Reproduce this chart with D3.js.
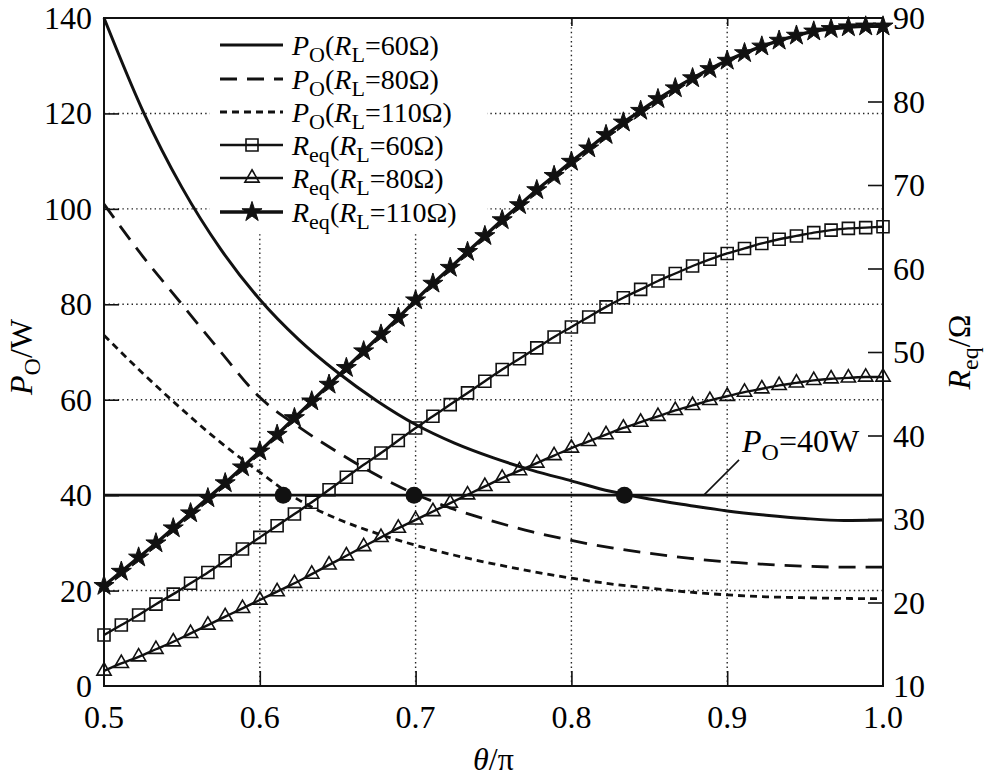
<!DOCTYPE html>
<html><head><meta charset="utf-8">
<script src="https://cdn.jsdelivr.net/npm/d3@7"></script>
<style>
html,body{margin:0;padding:0;background:#fff;}
</style></head>
<body><svg id="c" width="985" height="780" font-family="'Liberation Serif','Times New Roman',Times,'Nimbus Roman','Nimbus Roman No9 L',Tinos,FreeSerif,'Noto Serif','DejaVu Serif',serif"></svg>
<script>
// ---- data ----
const thetaP = [0.5,0.525,0.55,0.575,0.6,0.625,0.65,0.675,0.7,0.725,0.75,0.775,0.8,0.825,0.85,0.875,0.9,0.925,0.95,0.975,1.0];
const p60  = [140,120.5,104.5,91.5,81,72.6,65.7,59.8,54.8,50.9,47.8,45.2,43.0,40.8,39.2,37.9,36.7,35.8,35.1,34.7,34.8];
const p80  = [101,90,80,70,60.5,54.3,49,44.2,40.2,37.0,34.5,32.3,30.5,29.0,27.8,26.8,26.0,25.5,25.1,24.9,24.9];
const p110 = [73.5,65.5,58,51,44.8,39.0,35.0,32.0,29.5,27.4,25.6,24.0,22.6,21.4,20.5,19.7,19.1,18.7,18.5,18.35,18.3];

const angleDeg = [90,92,94,96,98,100,102,104,106,108,110,112,114,116,118,120,122,124,126,128,130,132,134,136,138,140,142,144,146,148,150,152,154,156,158,160,162,164,166,168,170,172,174,176,178,180];
const req60  = [16.1,17.3,18.5,19.8,21.0,22.3,23.6,25.0,26.4,27.8,29.2,30.6,32.0,33.5,35.0,36.5,37.9,39.4,40.9,42.3,43.7,45.1,46.5,47.9,49.2,50.5,51.8,53.0,54.2,55.4,56.5,57.5,58.5,59.4,60.3,61.1,61.8,62.4,63.0,63.5,63.9,64.3,64.6,64.8,64.9,65.0];
const req80  = [11.8,12.7,13.5,14.4,15.3,16.3,17.3,18.3,19.3,20.3,21.3,22.3,23.4,24.5,25.6,26.7,27.8,28.9,29.9,30.9,31.9,32.9,33.9,34.9,35.8,36.7,37.6,38.5,39.3,40.1,40.9,41.6,42.3,43.0,43.6,44.2,44.7,45.2,45.6,46.0,46.3,46.6,46.8,46.9,47.0,47.0];
const req110 = [22.0,23.7,25.4,27.1,28.9,30.7,32.5,34.3,36.2,38.1,40.1,42.1,44.1,46.1,48.1,50.1,52.1,54.1,56.2,58.2,60.1,62.0,63.9,65.8,67.6,69.4,71.1,72.8,74.4,76.0,77.5,78.9,80.3,81.6,82.8,83.9,84.9,85.8,86.6,87.3,87.9,88.4,88.7,88.9,89.0,89.0];

const crossTheta = [0.615,0.699,0.834];
const crossP = [40,40,40];
const refPower = 40;

const xTicks = [0.5,0.6,0.7,0.8,0.9,1.0];
const xTickLabels = ["0.5","0.6","0.7","0.8","0.9","1.0"];
const yLeftTicks = [0,20,40,60,80,100,120,140];
const yRightTicks = [10,20,30,40,50,60,70,80,90];

// ---- layout ----
const L=104, R=883, T=18, B=686;
const svg = d3.select("#c");
const x = d3.scaleLinear().domain([0.5,1.0]).range([L,R]);
const yL = d3.scaleLinear().domain([0,140]).range([B,T]);
const yR = d3.scaleLinear().domain([10,90]).range([B,T]);

// grid
const grid = svg.append("g").attr("stroke","#222").attr("stroke-width",1.4).attr("stroke-dasharray","1.4,3.2");
xTicks.slice(1,-1).forEach(v=>grid.append("line").attr("x1",x(v)).attr("x2",x(v)).attr("y1",T).attr("y2",B));
yLeftTicks.slice(1,-1).forEach(v=>grid.append("line").attr("x1",L).attr("x2",R).attr("y1",yL(v)).attr("y2",yL(v)));

// axes (ticks inward)
const tk = 15;
svg.append("g").attr("transform",`translate(0,${B})`).call(d3.axisTop(x).tickValues(xTicks.slice(1,-1)).tickSize(tk).tickFormat("")).call(g=>g.select(".domain").remove());
svg.append("g").attr("transform",`translate(0,${T})`).call(d3.axisBottom(x).tickValues(xTicks.slice(1,-1)).tickSize(8).tickFormat("")).call(g=>g.select(".domain").remove());
svg.append("g").attr("transform",`translate(${L},0)`).call(d3.axisRight(yL).tickValues(yLeftTicks.slice(1,-1)).tickSize(tk).tickFormat("")).call(g=>g.select(".domain").remove());
svg.append("g").attr("transform",`translate(${R},0)`).call(d3.axisLeft(yR).tickValues(yRightTicks.slice(1,-1)).tickSize(tk).tickFormat("")).call(g=>g.select(".domain").remove());
svg.selectAll(".tick line").attr("stroke","#111").attr("stroke-width",1.6);

// tick labels
const fs = 32;
svg.append("g").selectAll("text").data(xTicks).join("text")
  .attr("x",d=>x(d)).attr("y",728).attr("text-anchor","middle").attr("font-size",fs)
  .text((d,i)=>xTickLabels[i]);
svg.append("g").selectAll("text").data(yLeftTicks).join("text")
  .attr("x",92).attr("y",d=>yL(d)+11).attr("text-anchor","end").attr("font-size",fs).text(d=>d);
svg.append("g").selectAll("text").data(yRightTicks).join("text")
  .attr("x",893).attr("y",d=>yR(d)+11).attr("text-anchor","start").attr("font-size",fs).text(d=>d);

// legend background (covers grid)
svg.append("rect").attr("x",210).attr("y",T+1).attr("width",277).attr("height",212).attr("fill","#fff");

const plot = svg.append("g");

// reference line
plot.append("line").attr("x1",L).attr("x2",R).attr("y1",yL(refPower)).attr("y2",yL(refPower))
  .attr("stroke","#111").attr("stroke-width",2.8);

// power curves
const lineP = (arr)=>d3.line().x((d,i)=>x(thetaP[i])).y(d=>yL(d)).curve(d3.curveMonotoneX)(arr);
const pSeries = [
  {v:p60, dash:null, w:3},
  {v:p80, dash:"17,10", w:2.8},
  {v:p110, dash:"7,5", w:2.8}
];
pSeries.forEach(s=>{
  plot.append("path").attr("d",lineP(s.v)).attr("fill","none").attr("stroke","#111")
   .attr("stroke-width",s.w).attr("stroke-dasharray",s.dash);
});

// Req curves
const th = d=>d/180;
const lineR = (arr)=>d3.line().x((d,i)=>x(th(angleDeg[i]))).y(d=>yR(d)).curve(d3.curveMonotoneX)(arr);
const sq = d3.symbol().type(d3.symbolSquare).size(144);
const tri = d3.symbol().type(d3.symbolTriangle).size(88);
const star = d3.symbol().type(d3.symbolStar).size(125);
const rSeries = [
  {v:req60, sym:sq, fill:"none", w:2.4, mw:1.6},
  {v:req80, sym:tri, fill:"none", w:2.4, mw:1.6},
  {v:req110, sym:star, fill:"#111", w:3.4, mw:1}
];
rSeries.forEach(s=>{
  plot.append("path").attr("d",lineR(s.v)).attr("fill","none").attr("stroke","#111").attr("stroke-width",s.w);
  plot.append("g").selectAll("path").data(s.v).join("path")
    .attr("transform",(d,i)=>`translate(${x(th(angleDeg[i]))},${yR(d)})`)
    .attr("d",s.sym()).attr("fill",s.fill).attr("stroke","#111").attr("stroke-width",s.mw);
});

// intersection dots
plot.append("g").selectAll("circle").data(crossTheta).join("circle")
  .attr("cx",d=>x(d)).attr("cy",(d,i)=>yL(crossP[i])).attr("r",8.5).attr("fill","#111");

// frame
svg.append("rect").attr("x",L).attr("y",T).attr("width",R-L).attr("height",B-T)
  .attr("fill","none").attr("stroke","#111").attr("stroke-width",2);

// annotation P_O=40W
svg.append("line").attr("x1",x(0.885)).attr("y1",yL(refPower)).attr("x2",x(0.9076)).attr("y2",yL(47.4))
  .attr("stroke","#111").attr("stroke-width",1.6);
const ann = svg.append("text").attr("x",742).attr("y",452).attr("font-size",32);
ann.append("tspan").attr("font-style","italic").text("P");
ann.append("tspan").attr("font-size",24).attr("dy",8).text("O");
ann.append("tspan").attr("dy",-8).text("=40W");

// legend
const legY = [45,79,112,145,178,212];
const legItems = [
  {a:"P",as:"O",b:"60Ω)",kind:"p",i:0},
  {a:"P",as:"O",b:"80Ω)",kind:"p",i:1},
  {a:"P",as:"O",b:"110Ω)",kind:"p",i:2},
  {a:"R",as:"eq",b:"60Ω)",kind:"r",i:0},
  {a:"R",as:"eq",b:"80Ω)",kind:"r",i:1},
  {a:"R",as:"eq",b:"110Ω)",kind:"r",i:2}
];
const leg = svg.append("g");
legItems.forEach((it,k)=>{
  const y = legY[k];
  if(it.kind==="p"){
    const s = pSeries[it.i];
    leg.append("line").attr("x1",220).attr("x2",283).attr("y1",y).attr("y2",y).attr("stroke","#111")
      .attr("stroke-width",s.w).attr("stroke-dasharray",s.dash);
  } else {
    const s = rSeries[it.i];
    leg.append("line").attr("x1",220).attr("x2",283).attr("y1",y).attr("y2",y).attr("stroke","#111").attr("stroke-width",s.w);
    leg.append("path").attr("transform",`translate(252,${y})`).attr("d",s.sym()).attr("fill",s.fill)
      .attr("stroke","#111").attr("stroke-width",s.mw);
  }
  const t = leg.append("text").attr("x",292).attr("y",y+10).attr("font-size",28);
  t.append("tspan").attr("font-style","italic").text(it.a);
  t.append("tspan").attr("font-size",22).attr("dy",7).text(it.as);
  t.append("tspan").attr("dy",-7).text("(");
  t.append("tspan").attr("font-style","italic").text("R");
  t.append("tspan").attr("font-size",22).attr("dy",7).text("L");
  t.append("tspan").attr("dy",-7).text("="+it.b);
});

// axis titles
const xt = svg.append("text").attr("x",(L+R)/2).attr("y",770).attr("text-anchor","middle").attr("font-size",32);
xt.append("tspan").attr("font-style","italic").text("θ");
xt.append("tspan").text("/π");

const ylt = svg.append("text").attr("transform","translate(32,357) rotate(-90)").attr("text-anchor","middle").attr("font-size",32);
ylt.append("tspan").attr("font-style","italic").text("P");
ylt.append("tspan").attr("font-size",24).attr("dy",8).text("O");
ylt.append("tspan").attr("dy",-8).text("/W");

const yrt = svg.append("text").attr("transform","translate(970,352) rotate(-90)").attr("text-anchor","middle").attr("font-size",32);
yrt.append("tspan").attr("font-style","italic").text("R");
yrt.append("tspan").attr("font-size",24).attr("dy",8).text("eq");
yrt.append("tspan").attr("dy",-8).text("/Ω");
</script></body></html>
